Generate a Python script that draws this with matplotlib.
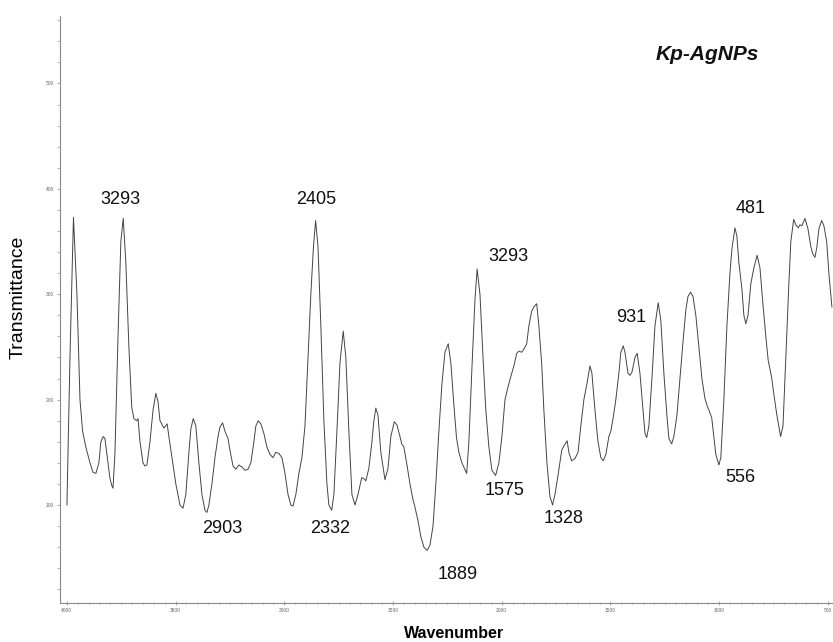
import matplotlib
matplotlib.use("Agg")
import matplotlib.pyplot as plt
from matplotlib.ticker import MultipleLocator

plt.rcParams['font.family'] = ['Liberation Sans', 'DejaVu Sans']

wavenumber = [4000, 3986, 3970, 3954, 3940, 3928, 3913, 3894, 3880, 3867, 3853, 3844, 3833, 3825, 3816,
              3802, 3793, 3788, 3779, 3765, 3752, 3741, 3729, 3715, 3702, 3692, 3679, 3673, 3664, 3650,
              3641, 3632, 3618, 3604, 3591, 3581, 3572, 3564, 3554, 3539, 3531, 3517, 3499, 3480, 3466,
              3453, 3439, 3430, 3419, 3407, 3393, 3379, 3365, 3356, 3347, 3333, 3319, 3305, 3296, 3284,
              3273, 3259, 3250, 3236, 3223, 3209, 3195, 3181, 3167, 3154, 3140, 3131, 3120, 3108, 3094,
              3080, 3066, 3052, 3039, 3025, 3011, 2997, 2983, 2970, 2960, 2947, 2933, 2919, 2905, 2891,
              2878, 2866, 2856, 2845, 2832, 2818, 2804, 2795, 2782, 2772, 2758, 2744, 2729, 2717, 2703,
              2689, 2675, 2661, 2644, 2634, 2625, 2611, 2597, 2588, 2579, 2569, 2556, 2537, 2523, 2510,
              2494, 2482, 2468, 2460, 2450, 2435, 2422, 2408, 2399, 2385, 2372, 2358, 2343, 2330, 2316,
              2303, 2289, 2275, 2261, 2246, 2234, 2220, 2208, 2197, 2183, 2161, 2151, 2137, 2123, 2113,
              2100, 2086, 2073, 2059, 2045, 2028, 2013, 1999, 1985, 1971, 1958, 1944, 1931, 1921, 1908,
              1898, 1885, 1875, 1862, 1852, 1839, 1829, 1816, 1806, 1792, 1778, 1766, 1755, 1741, 1724,
              1714, 1699, 1691, 1679, 1663, 1649, 1636, 1622, 1608, 1594, 1585, 1571, 1557, 1544, 1533,
              1521, 1507, 1498, 1487, 1475, 1461, 1452, 1441, 1433, 1419, 1410, 1401, 1387, 1377, 1364,
              1350, 1341, 1333, 1323, 1309, 1295, 1280, 1268, 1254, 1240, 1231, 1218, 1208, 1194, 1180,
              1166, 1153, 1143, 1131, 1120, 1107, 1093, 1079, 1065, 1056, 1047, 1034, 1024, 1015, 1001,
              992, 978, 964, 950, 941, 927, 918, 909, 895, 886, 877, 867, 854, 840, 825,
              812, 798, 785, 774, 759, 748, 734, 717, 706, 693, 679, 670, 657, 647, 636,
              628, 619, 605, 591, 578, 568, 559, 550, 541, 528, 518, 505, 495, 481]

transmittance = [100, 240, 373, 300, 200, 170, 155, 140, 131, 130, 140, 160, 165, 163, 148,
                 125, 118, 116, 150, 260, 350, 372, 330, 250, 193, 182, 180, 182, 160, 140,
                 137, 138, 160, 190, 206, 198, 180, 177, 173, 177, 165, 145, 120, 100, 97,
                 110, 150, 172, 182, 175, 140, 110, 95, 93, 100, 120, 145, 165, 174, 178,
                 170, 163, 152, 137, 134, 138, 136, 133, 134, 140, 160, 175, 180, 177, 168,
                 155, 148, 145, 150, 149, 145, 130, 110, 100, 99, 110, 130, 145, 175, 240,
                 300, 345, 370, 345, 270, 180, 120, 100, 95, 110, 170, 235, 265, 240, 170,
                 110, 100, 110, 126, 125, 123, 135, 160, 180, 192, 185, 150, 124, 135, 165,
                 179, 176, 165, 158, 155, 137, 120, 105, 98, 85, 70, 60, 57, 62, 80,
                 120, 170, 215, 245, 253, 235, 195, 164, 150, 140, 130, 160, 230, 295, 324,
                 300, 240, 190, 155, 133, 128, 140, 165, 200, 212, 222, 232, 244, 246, 245,
                 248, 253, 270, 284, 288, 291, 270, 234, 190, 140, 108, 100, 110, 128, 152,
                 156, 161, 150, 142, 144, 150, 175, 200, 215, 232, 225, 190, 160, 145, 142,
                 148, 165, 170, 183, 200, 225, 245, 251, 245, 225, 223, 226, 240, 244, 225,
                 190, 168, 164, 175, 220, 270, 292, 275, 225, 185, 163, 158, 165, 185, 220,
                 255, 285, 298, 302, 298, 280, 250, 220, 201, 195, 190, 183, 165, 148, 138,
                 145, 200, 270, 320, 343, 363, 355, 330, 305, 280, 272, 280, 310, 325, 337,
                 325, 290, 260, 237, 222, 205, 185, 165, 175, 240, 310, 350, 371, 366, 363,
                 366, 365, 372, 362, 345, 338, 335, 345, 362, 370, 365, 350, 320, 288]

peak_labels = ["3293", "2405", "2903", "2332", "1889", "3293", "1575", "1328", "931", "481", "556"]
label_x = [3752, 2855, 3287, 2790, 2201, 1967, 1985, 1714, 1406, 854, 904]
label_y = [390, 390, 78, 78, 34, 336, 114, 87, 278, 381, 126]

fig = plt.figure(figsize=(8.33, 6.42), dpi=100)
ax = fig.add_axes([0.072, 0.0607, 0.928, 0.9143])
ax.plot(wavenumber, transmittance, color='#444444', lw=0.7)
ax.set_xlim(4032, 476)
ax.set_ylim(7, 564)

for s in ['top', 'right']:
    ax.spines[s].set_visible(False)
for s in ['left', 'bottom']:
    ax.spines[s].set_color('#888888')
    ax.spines[s].set_linewidth(0.8)

ax.xaxis.set_major_locator(MultipleLocator(500))
ax.xaxis.set_minor_locator(MultipleLocator(50))
ax.yaxis.set_major_locator(MultipleLocator(100))
ax.yaxis.set_minor_locator(MultipleLocator(20))
ax.tick_params(axis='both', which='major', labelsize=3.5, colors='#999999', labelcolor='#666666',
               length=2.5, width=0.6, direction='out', pad=2)
ax.tick_params(axis='both', which='minor', colors='#999999', length=2, width=0.5, direction='out')
ax.tick_params(axis='x', which='both', direction='inout')

for t, x, y in zip(peak_labels, label_x, label_y):
    ax.text(x, y, t, fontsize=13, ha='center', va='center', color='#111111')

fig.text(707 / 833, 1 - 55 / 642, "Kp-AgNPs", fontsize=15, fontweight='bold', fontstyle='italic',
         ha='center', va='center', color='#111111')

fig.text(18.5 / 833, 1 - 297 / 642, "Transmittance", rotation=90, fontsize=14, ha='center', va='center')
fig.text(454 / 833, 1 - 633 / 642, "Wavenumber", fontsize=11.5, fontweight='bold', ha='center', va='center')

fig.savefig("out.png", dpi=100)
